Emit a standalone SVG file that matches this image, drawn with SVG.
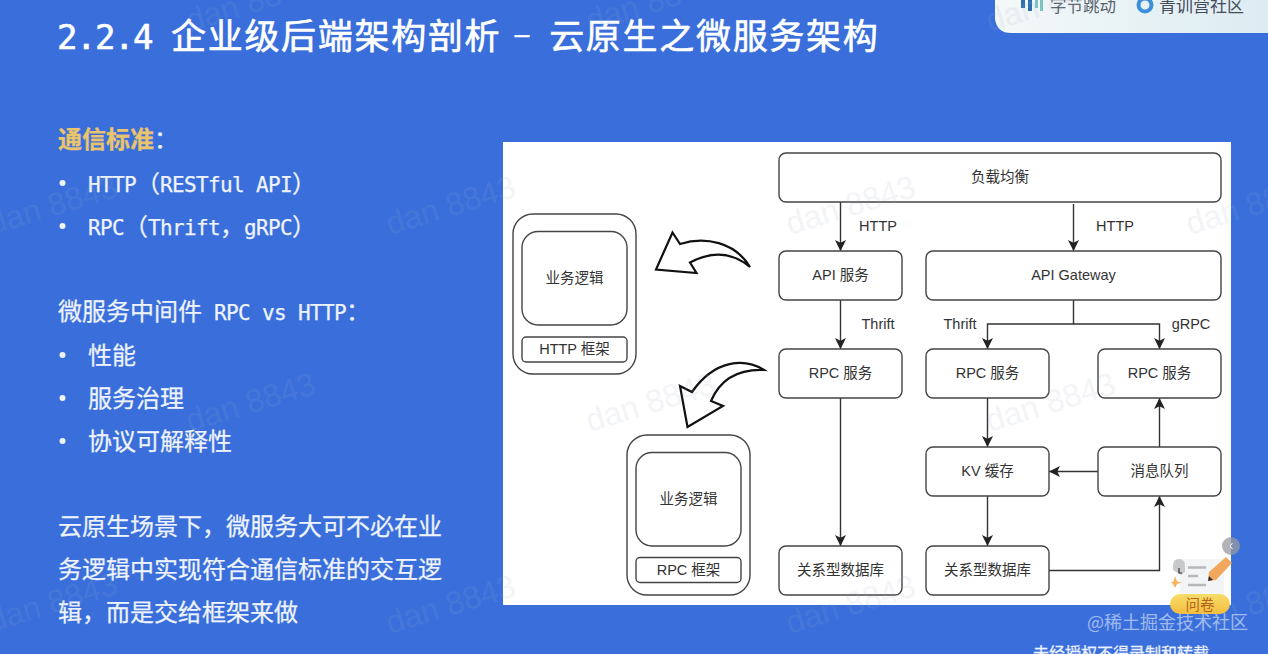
<svg xmlns="http://www.w3.org/2000/svg" width="1268" height="654" viewBox="0 0 1268 654">
<style>
.cjk{font-family:"Noto Sans CJK SC","Liberation Sans",sans-serif}
.body{font-family:"Noto Sans CJK SC",sans-serif;font-size:24px;fill:#eef3fd;stroke:#eef3fd;stroke-width:.25px}
.m{font-family:"DejaVu Sans Mono",monospace;font-size:21px;letter-spacing:-.64px}
.t{font-family:"DejaVu Sans Mono",monospace;font-size:34px;letter-spacing:-1.47px}
.d{font-family:"Liberation Sans",sans-serif;font-size:26px;letter-spacing:6.3px}
.box{fill:#fff;stroke:#444;stroke-width:1.4}
.lbl{font-family:"Liberation Sans","Noto Sans CJK SC",sans-serif;font-size:14.5px;fill:#333;text-anchor:middle}
.edge{fill:none;stroke:#333;stroke-width:1.4}
.arw{fill:#fff;stroke:#111;stroke-width:2.2;stroke-linejoin:miter}
.wm{font-family:"Liberation Sans",sans-serif;font-size:32px;fill:#9aa9c4;opacity:.12}
</style>
<defs>
<marker id="ah" markerUnits="userSpaceOnUse" markerWidth="11" markerHeight="11" refX="10" refY="5" orient="auto" viewBox="0 0 10 10"><path d="M10 5L0 0L2.5 5L0 10Z" fill="#222"/></marker>
<linearGradient id="badge" x1="0" x2="1"><stop offset="0" stop-color="#f4f8f8"/><stop offset="1" stop-color="#dcecf2"/></linearGradient>
<linearGradient id="pill" x1="0" y1="0" x2="0" y2="1"><stop offset="0" stop-color="#f7dd6a"/><stop offset="1" stop-color="#f3bd3e"/></linearGradient>
</defs>
<rect width="1268" height="654" fill="#3a6fdb"/>

<g id="badge-top">
<path d="M995 0H1268V33H1011Q997 33 995 19Z" fill="url(#badge)"/>
<g fill="#2f6fb0"><rect x="1021" y="0" width="4" height="8"/><rect x="1028" y="0" width="4" height="11"/></g>
<g fill="#7cc4c4"><rect x="1035" y="0" width="3" height="8"/><rect x="1040" y="0" width="3" height="11"/></g>
<text class="cjk" x="1050" y="12" font-size="16.5" fill="#5a6470">字节跳动</text>
<circle cx="1145" cy="5" r="6.5" fill="none" stroke="#3c8fd8" stroke-width="4"/>
<text class="cjk" x="1159" y="12" font-size="17" fill="#444c58">青训营社区</text>
</g>

<text id="title" x="57" y="49" font-family="Noto Sans CJK SC,sans-serif" font-size="35" fill="#fff" stroke="#fff" stroke-width=".6" letter-spacing="1.7"><tspan class="t">2.2.4 </tspan>企业级后端架构剖析<tspan class="d" dy="-6"> – </tspan><tspan dy="6">云原生之微服务架构</tspan></text>

<g id="left-text">
<text class="body" x="58" y="148"><tspan fill="#e9c46d" stroke="#e9c46d" font-weight="700">通信标准</tspan>：</text>
<circle cx="62.500" cy="183" r="3" fill="#eef3fd"/>
<text class="body" x="88" y="192"><tspan class="m">HTTP</tspan>（<tspan class="m">RESTful API</tspan>）</text>
<circle cx="62.500" cy="226" r="3" fill="#eef3fd"/>
<text class="body" x="88" y="235"><tspan class="m">RPC</tspan>（<tspan class="m">Thrift</tspan>，<tspan class="m">gRPC</tspan>）</text>
<text class="body" x="58" y="320">微服务中间件<tspan class="m"> RPC vs HTTP</tspan>：</text>
<circle cx="62.500" cy="355" r="3" fill="#eef3fd"/>
<text class="body" x="88" y="364">性能</text>
<circle cx="62.500" cy="398" r="3" fill="#eef3fd"/>
<text class="body" x="88" y="407">服务治理</text>
<circle cx="62.500" cy="441" r="3" fill="#eef3fd"/>
<text class="body" x="88" y="450">协议可解释性</text>
<text class="body" x="58" y="535">云原生场景下，微服务大可不必在业</text>
<text class="body" x="58" y="578">务逻辑中实现符合通信标准的交互逻</text>
<text class="body" x="58" y="621">辑，而是交给框架来做</text>
</g>

<rect id="panel" x="503" y="142" width="728" height="463" fill="#fff"/>

<g id="connectors" class="conn">
<path class="edge" marker-end="url(#ah)" d="M840.500 202V251"/>
<path class="edge" marker-end="url(#ah)" d="M1073.500 204V251"/>
<path class="edge" marker-end="url(#ah)" d="M840.500 300V349"/>
<path class="edge" marker-end="url(#ah)" d="M840.500 398V546"/>
<path class="edge" marker-end="url(#ah)" d="M1073.500 300V324H987.500V349"/>
<path class="edge" marker-end="url(#ah)" d="M1073.500 324H1159.500V349"/>
<path class="edge" marker-end="url(#ah)" d="M987.500 398V447"/>
<path class="edge" marker-end="url(#ah)" d="M1159.500 447V398"/>
<path class="edge" marker-end="url(#ah)" d="M1098 471.500H1049"/>
<path class="edge" marker-end="url(#ah)" d="M987.500 496V546"/>
<path class="edge" marker-end="url(#ah)" d="M1049 570.500H1159.500V496"/>
<text class="lbl" x="878" y="231">HTTP</text>
<text class="lbl" x="1115" y="231">HTTP</text>
<text class="lbl" x="878" y="329">Thrift</text>
<text class="lbl" x="960" y="329">Thrift</text>
<text class="lbl" x="1191" y="329">gRPC</text>
</g>

<g id="node-lb"><rect class="box" x="779" y="153" width="442" height="49" rx="7"/><text class="lbl" x="1000" y="182">负载均衡</text></g>
<g id="node-api"><rect class="box" x="779" y="251" width="123" height="49" rx="7"/><text class="lbl" x="840.500" y="280">API 服务</text></g>
<g id="node-gateway"><rect class="box" x="926" y="251" width="295" height="49" rx="7"/><text class="lbl" x="1073.500" y="280">API Gateway</text></g>
<g id="node-rpc1"><rect class="box" x="779" y="349" width="123" height="49" rx="7"/><text class="lbl" x="840.500" y="378">RPC 服务</text></g>
<g id="node-rpc2"><rect class="box" x="926" y="349" width="123" height="49" rx="7"/><text class="lbl" x="987.500" y="378">RPC 服务</text></g>
<g id="node-rpc3"><rect class="box" x="1098" y="349" width="123" height="49" rx="7"/><text class="lbl" x="1159.500" y="378">RPC 服务</text></g>
<g id="node-kv"><rect class="box" x="926" y="447" width="123" height="49" rx="7"/><text class="lbl" x="987.500" y="476">KV 缓存</text></g>
<g id="node-mq"><rect class="box" x="1098" y="447" width="123" height="49" rx="7"/><text class="lbl" x="1159.500" y="476">消息队列</text></g>
<g id="node-db1"><rect class="box" x="779" y="546" width="123" height="49" rx="7"/><text class="lbl" x="840.500" y="575">关系型数据库</text></g>
<g id="node-db2"><rect class="box" x="926" y="546" width="123" height="49" rx="7"/><text class="lbl" x="987.500" y="575">关系型数据库</text></g>

<g id="http-stack">
<rect class="box" x="513" y="214" width="123" height="160" rx="20"/>
<rect class="box" x="522" y="231.500" width="105" height="93.500" rx="16"/>
<text class="lbl" x="574.500" y="283">业务逻辑</text>
<rect class="box" x="522" y="337" width="105" height="25" rx="4"/>
<text class="lbl" x="574.500" y="354">HTTP 框架</text>
</g>
<g id="rpc-stack">
<rect class="box" x="627" y="435" width="123" height="160" rx="20"/>
<rect class="box" x="636" y="452.500" width="105" height="93.500" rx="16"/>
<text class="lbl" x="688.500" y="504">业务逻辑</text>
<rect class="box" x="636" y="557.500" width="105" height="25" rx="4"/>
<text class="lbl" x="688.500" y="575">RPC 框架</text>
</g>

<path id="arrow-http" class="arw" d="M750 267C735 242 705 236 680 244L672.500 232.500L656 269.500L696.500 273L690 262.500C712 251 732 252 750 267Z"/>
<path id="arrow-rpc" class="arw" d="M764 370C745 358 715 359 692 392L680 386L687.500 427L723 406L711 401C720 380 738 369 764 370Z"/>

<g id="watermarks">
<text class="wm" transform="translate(190 32) rotate(-17)">dan 8843</text>
<text class="wm" transform="translate(590 32) rotate(-17)">dan 8843</text>
<text class="wm" transform="translate(990 32) rotate(-17)">dan 8843</text>
<text class="wm" transform="translate(-8 235) rotate(-17)">dan 8843</text>
<text class="wm" transform="translate(390 235) rotate(-17)">dan 8843</text>
<text class="wm" transform="translate(790 235) rotate(-17)">dan 8843</text>
<text class="wm" transform="translate(1190 235) rotate(-17)">dan 8843</text>
<text class="wm" transform="translate(190 432) rotate(-17)">dan 8843</text>
<text class="wm" transform="translate(590 432) rotate(-17)">dan 8843</text>
<text class="wm" transform="translate(990 432) rotate(-17)">dan 8843</text>
<text class="wm" transform="translate(-8 632) rotate(-17)">dan 8843</text>
<text class="wm" transform="translate(390 634) rotate(-17)">dan 8843</text>
<text class="wm" transform="translate(790 634) rotate(-17)">dan 8843</text>
<text class="wm" transform="translate(1190 634) rotate(-17)">dan 8843</text>
</g>

<g id="survey">
<rect x="1180" y="559" width="44" height="36" fill="#f3f4f6"/>
<path d="M1173 570V566Q1173 559 1179 559Q1185 559 1185 566V572L1181 575Z" fill="#c8c9cc"/>
<path d="M1179 568V573H1182" fill="none" stroke="#333" stroke-width="1.200"/>
<path d="M1188 567.500H1206M1188 576H1198M1188 585H1206" stroke="#b5b8bd" stroke-width="2.500"/>
<path d="M1209 572L1226 557L1232 563L1216 580L1208 581Z" fill="#f2a85c"/>
<path d="M1209 576L1208 581L1213 580Z" fill="#333"/>
<path d="M1175 576L1177 581.500L1182 582.500L1177 584L1175 588L1173 584L1171 582.500L1173.500 581.500Z" fill="#f7b45c"/>
<rect x="1170" y="594" width="60" height="20" rx="10" fill="url(#pill)"/>
<text class="cjk" x="1200" y="610" font-size="14.500" fill="#b2641c" text-anchor="middle">问卷</text>
<circle cx="1231" cy="546" r="9" fill="#9a9aa0" opacity=".75"/>
<path d="M1232.500 543L1230 546L1232.500 549" fill="none" stroke="#fff"/>
</g>
<text id="wm-juejin" class="cjk" x="1087" y="629" font-size="18" fill="#c2d3f5" opacity=".75">@稀土掘金技术社区</text>
<text id="notice" class="cjk" x="1033" y="659" font-size="16" fill="#eaf0fc" stroke="#eaf0fc" stroke-width=".3">未经授权不得录制和转载</text>
</svg>
